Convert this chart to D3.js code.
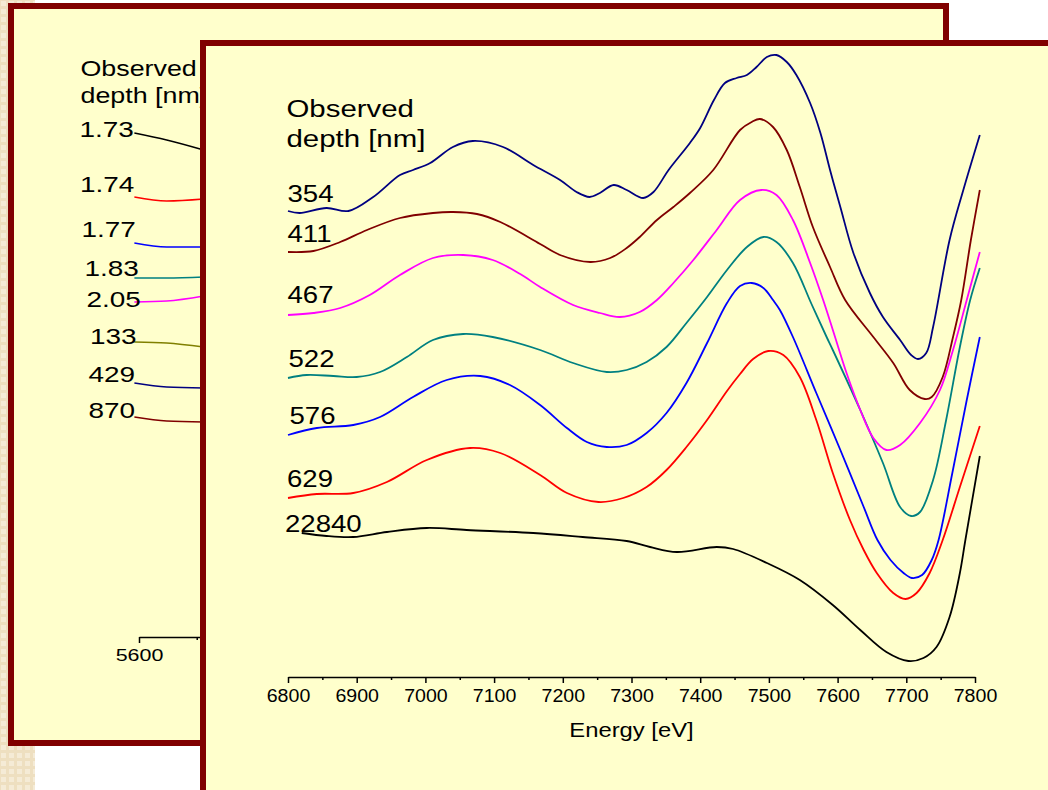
<!DOCTYPE html>
<html>
<head>
<meta charset="utf-8">
<script src="https://cdn.jsdelivr.net/npm/d3@7"></script>
<style>
html,body{margin:0;padding:0;background:#fff;}
svg{display:block;}
</style>
</head>
<body>
<svg id="chart" width="1048" height="790"></svg>
<script>
// ---------------- DATA ----------------
// Front panel: observed depth labels (nm)
const frontSeries = ["354", "411", "467", "522", "576", "629", "22840"];
// Energies (eV) and intensities (arb. units, offset) per series
const e354 = [6800,6817,6856,6888,6924,6963,6982,7007,7040,7069,7113,7157,7196,7220,7239,7254,7274,7293,7317,7332,7354,7385,7400,7420,7436,7453,7468,7482,7497,7511,7526,7540,7560,7575,7589,7604,7623,7647,7666,7691,7707,7717,7729,7739,7763,7783,7807];
const v354 = [466,464,469,466,480,502,507,514,530,536,530,512,497,485,480,484,492,487,479,485,507,534,549,577,594,599,602,610,620,622,615,602,574,544,507,470,424,384,360,337,322,318,324,350,437,487,542];
const e411 = [6800,6837,6876,6915,6963,7011,7040,7075,7109,7167,7196,7240,7269,7293,7312,7337,7361,7385,7419,7458,7475,7487,7506,7526,7545,7564,7589,7611,7652,7681,7705,7727,7737,7753,7768,7780,7794,7807];
const v411 = [425,426,435,447,459,464,465,463,455,433,422,415,419,429,440,457,470,484,507,547,555,558,550,527,490,450,410,377,340,314,287,278,280,300,340,377,437,487];
const e467 = [6800,6837,6876,6919,6963,7011,7055,7098,7138,7167,7215,7254,7283,7312,7337,7361,7390,7424,7458,7489,7511,7535,7560,7579,7594,7613,7633,7652,7671,7691,7720,7749,7768,7788,7807];
const v467 = [362,364,369,382,402,419,422,417,403,390,372,364,360,365,377,394,417,447,477,487,482,457,414,377,345,304,267,239,227,232,254,287,327,377,425];
const e522 = [6800,6827,6866,6900,6934,6973,7011,7055,7098,7167,7215,7264,7293,7322,7351,7380,7410,7439,7468,7492,7511,7535,7562,7584,7593,7633,7666,7691,7707,7720,7739,7758,7778,7793,7807];
const v522 = [299,302,301,300,305,320,337,343,340,327,314,305,307,315,330,354,380,407,430,440,435,414,373,340,327,267,214,170,161,165,197,257,330,377,409];
const e576 = [6800,6842,6895,6934,6982,7031,7080,7123,7167,7206,7235,7264,7293,7322,7351,7380,7410,7439,7458,7475,7492,7506,7516,7535,7569,7604,7638,7658,7677,7696,7708,7723,7737,7747,7767,7788,7807];
const v576 = [242,249,252,260,280,297,301,292,272,249,235,230,232,244,264,294,334,374,391,394,389,377,367,340,284,227,170,137,117,104,99,102,117,137,204,277,340];
const e629 = [6800,6842,6895,6944,7002,7065,7109,7167,7206,7252,7288,7322,7351,7380,7410,7439,7458,7477,7499,7521,7545,7569,7593,7618,7638,7657,7681,7699,7715,7734,7753,7778,7807];
const v629 = [179,183,184,195,217,229,224,202,184,175,179,190,207,230,257,286,303,318,326,322,300,257,204,157,127,104,84,78,84,104,137,190,251];
const e22840 = [6820,6856,6895,6944,7002,7060,7157,7229,7293,7327,7366,7424,7448,7497,7545,7593,7633,7671,7703,7725,7744,7763,7778,7786,7807];
const v22840 = [144,141,140,145,149,147,144,140,136,130,125,130,128,114,97,72,47,25,16,19,30,60,104,137,221];

// Back panel (mostly hidden): labels and the visible start of each trace
const backSeries = ["1.73", "1.74", "1.77", "1.83", "2.05", "133", "429", "870"];
const backE = [5596, 5624, 5656];
const vb173 = [504, 497, 487];
const vb174 = [440, 436, 438];
const vb177 = [394, 390, 390];
const vb183 = [359, 359, 360];
const vb205 = [335, 336, 341];
const vb133 = [295, 294, 290];
const vb429 = [254, 250, 249];
const vb870 = [220, 216, 215];

// Axis ticks
const frontMajorTicks = [6800, 6900, 7000, 7100, 7200, 7300, 7400, 7500, 7600, 7700, 7800];
const frontMinorTicks = [6850, 6950, 7050, 7150, 7250, 7350, 7450, 7550, 7650, 7750];
const backMajorTicks = [5600];
const backMinorTicks = [5650];
const xTitle = "Energy [eV]";
const legendTitle = ["Observed", "depth [nm]"];

// ---------------- STYLE / LAYOUT ----------------
const FONT = "'Liberation Sans', Arial, Helvetica, sans-serif";
const SX = 1.2; // horizontal stretch of the original slide text
const frontColors = ["#000080", "#800000", "#ff00ff", "#008080", "#0000ff", "#ff0000", "#000000"];
const backColors = ["#000000", "#ff0000", "#0000ff", "#008080", "#ff00ff", "#808000", "#000080", "#800000"];
const frontLabelPos = [[287.5,201.5],[287.5,241.5],[287.5,303],[288.5,366.5],[289.5,424],[287,486.5],[285,531.5]];
const backLabelPos = [[79.5,137],[80,192],[81.5,237],[84.5,275.5],[86.5,306.5],[90,343.5],[88.5,382],[88.5,417.5]];

const svg = d3.select("#chart");

function addText(g, x, y, str, size, anchor, sx) {
  return g.append("text")
    .attr("transform", `translate(${x},${y}) scale(${sx || SX},1)`)
    .attr("text-anchor", anchor || "start")
    .style("font-family", FONT)
    .style("font-size", size + "px")
    .attr("fill", "#000")
    .text(str);
}

// Background texture strip on the left
const defs = svg.append("defs");
const pat = defs.append("pattern").attr("id", "tex").attr("width", 8).attr("height", 8)
  .attr("patternUnits", "userSpaceOnUse");
pat.append("rect").attr("width", 8).attr("height", 8).attr("fill", "#eedfc0");
pat.append("rect").attr("x", 1).attr("y", 1).attr("width", 5).attr("height", 5).attr("fill", "#f5ebd6");
svg.append("rect").attr("x", 0).attr("y", 0).attr("width", 1048).attr("height", 790).attr("fill", "#ffffff");
svg.append("rect").attr("x", 0).attr("y", 0).attr("width", 35).attr("height", 790).attr("fill", "url(#tex)");

// ---------------- BACK PANEL ----------------
const back = svg.append("g");
back.append("rect").attr("x", 11).attr("y", 6).attr("width", 935).attr("height", 737)
  .attr("fill", "#ffffcc").attr("stroke", "#800000").attr("stroke-width", 6);

const xB = d3.scaleLinear().domain([5600, 5655]).range([139, 202.5]);
const yB = d3.scaleLinear().domain([0, 630]).range([637, 7]);

const backVals = [vb173, vb174, vb177, vb183, vb205, vb133, vb429, vb870];
const lineB = d3.line().x(d => xB(d[0])).y(d => yB(d[1])).curve(d3.curveMonotoneX);
backVals.forEach((vals, i) => {
  back.append("path")
    .datum(backE.map((e, j) => [e, vals[j]]))
    .attr("d", lineB).attr("fill", "none")
    .attr("stroke", backColors[i]).attr("stroke-width", 1.4);
});
backSeries.forEach((s, i) => addText(back, backLabelPos[i][0], backLabelPos[i][1], s, 22, "start", 1.27));
addText(back, 80.5, 75.5, legendTitle[0], 22, "start", 1.22);
addText(back, 80.5, 103, legendTitle[1], 22, "start", 1.22);

const backAxis = back.append("g").attr("transform", "translate(0,637)")
  .call(d3.axisBottom(xB).tickValues(backMajorTicks).tickSize(6).tickSizeOuter(0).tickFormat(d3.format("d")));
backAxis.select(".domain").attr("stroke-width", 1.5);
backAxis.selectAll(".tick line").attr("stroke-width", 1.5);
backAxis.selectAll(".tick text")
  .attr("y", 24).attr("dy", null)
  .attr("transform", "scale(1.3,1)")
  .style("font-family", FONT).style("font-size", "16.5px").attr("fill", "#000");
const backMinor = back.append("g").attr("transform", "translate(0,637)")
  .call(d3.axisBottom(xB).tickValues(backMinorTicks).tickSize(3).tickSizeOuter(0).tickFormat(""));
backMinor.select(".domain").remove();
backMinor.selectAll(".tick line").attr("stroke-width", 1.5);

// ---------------- FRONT PANEL ----------------
const front = svg.append("g");
front.append("rect").attr("x", 203).attr("y", 43).attr("width", 900).attr("height", 800)
  .attr("fill", "#ffffcc").attr("stroke", "#800000").attr("stroke-width", 6);

const xF = d3.scaleLinear().domain([6800, 7800]).range([288, 975]);
const yF = d3.scaleLinear().domain([0, 630]).range([677, 47]);

const frontE = [e354, e411, e467, e522, e576, e629, e22840];
const frontV = [v354, v411, v467, v522, v576, v629, v22840];
const lineF = d3.line().x(d => xF(d[0])).y(d => yF(d[1])).curve(d3.curveCatmullRom.alpha(0.5));

// draw bottom-most first
for (let i = frontSeries.length - 1; i >= 0; i--) {
  front.append("path")
    .datum(frontE[i].map((e, j) => [e, frontV[i][j]]))
    .attr("d", lineF).attr("fill", "none")
    .attr("stroke", frontColors[i]).attr("stroke-width", 1.8)
    .attr("stroke-linejoin", "round");
}
frontSeries.forEach((s, i) => addText(front, frontLabelPos[i][0], frontLabelPos[i][1], s, 23, "start", 1.2));
addText(front, 286.5, 116.5, legendTitle[0], 24.5, "start", 1.2);
addText(front, 286.5, 147, legendTitle[1], 24.5, "start", 1.2);

const frontAxis = front.append("g").attr("transform", "translate(0,677)")
  .call(d3.axisBottom(xF).tickValues(frontMajorTicks).tickSize(6).tickSizeOuter(0).tickFormat(d3.format("d")));
frontAxis.select(".domain").attr("stroke-width", 1.6);
frontAxis.selectAll(".tick line").attr("stroke-width", 1.5);
frontAxis.selectAll(".tick text")
  .attr("y", 25).attr("dy", null)
  .attr("transform", "scale(1.12,1)")
  .style("font-family", FONT).style("font-size", "17.5px").attr("fill", "#000");
const frontMinor = front.append("g").attr("transform", "translate(0,677)")
  .call(d3.axisBottom(xF).tickValues(frontMinorTicks).tickSize(3).tickSizeOuter(0).tickFormat(""));
frontMinor.select(".domain").remove();
frontMinor.selectAll(".tick line").attr("stroke-width", 1.5);

addText(front, 631.5, 737, xTitle, 20, "middle", 1.19);
</script>
</body>
</html>
